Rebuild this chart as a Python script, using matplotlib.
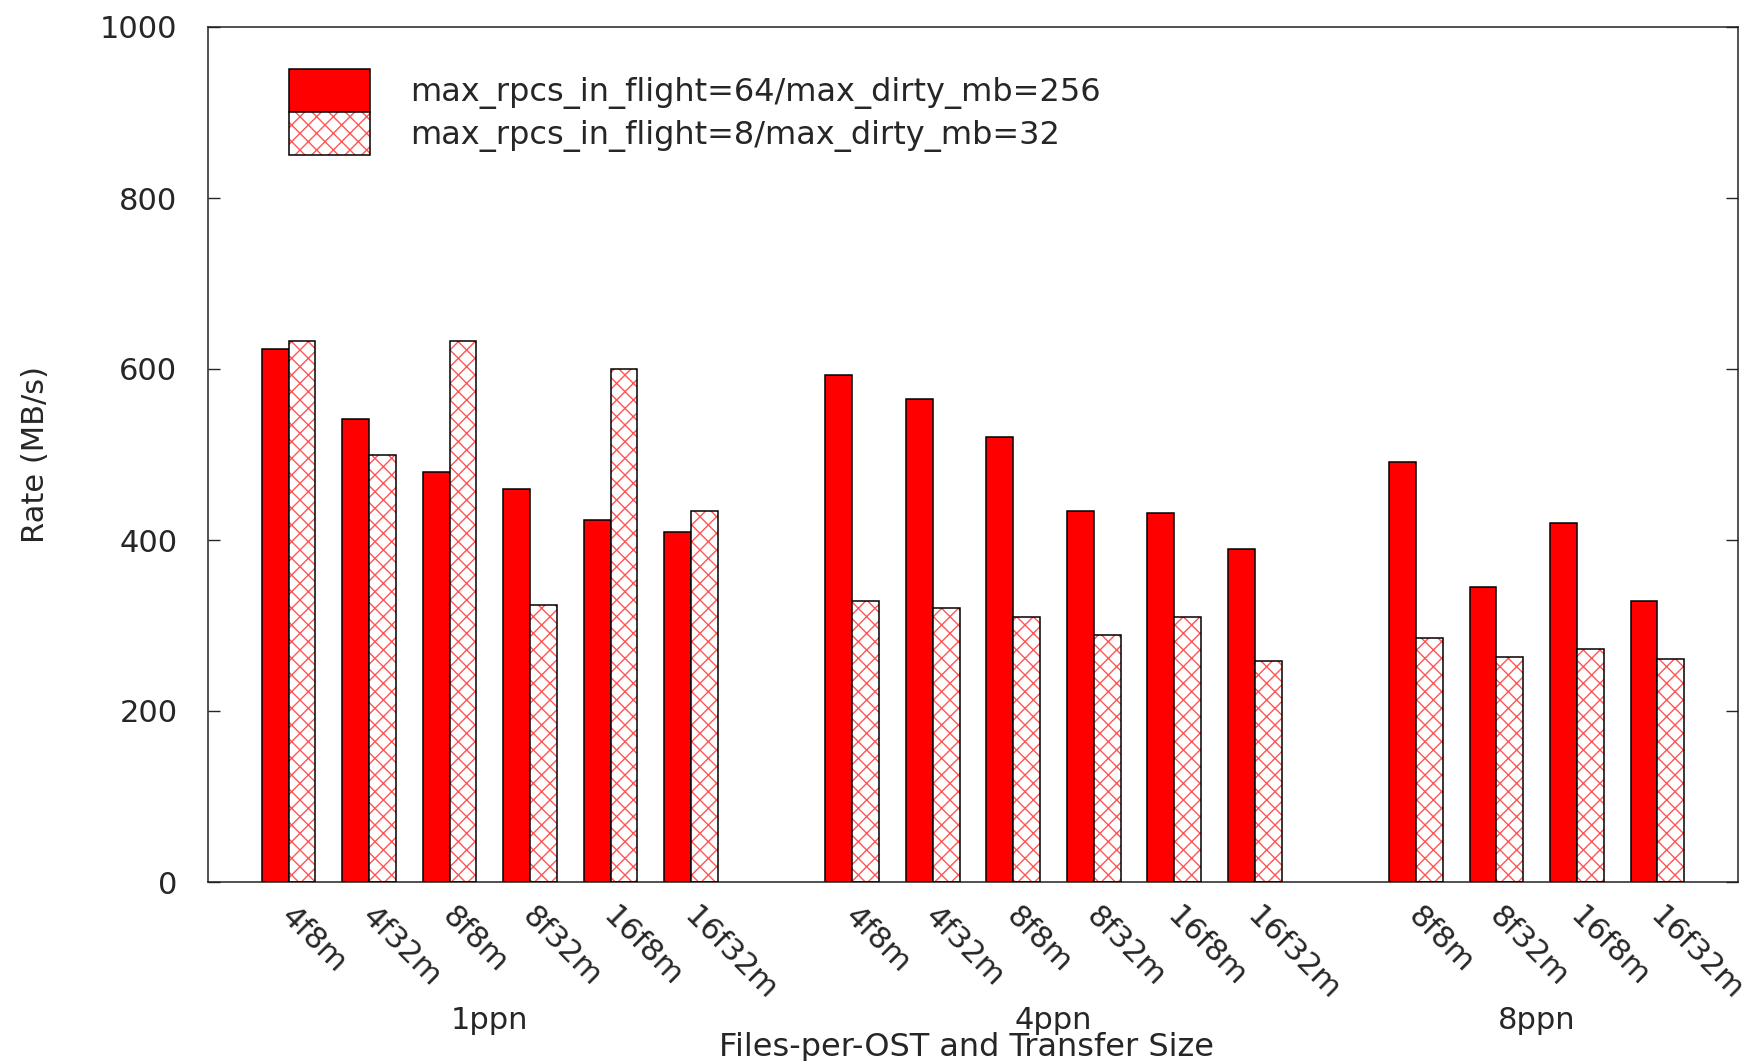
import matplotlib
matplotlib.use('Agg')
import matplotlib.pyplot as plt
from matplotlib.patches import Patch
import matplotlib.transforms as mtransforms
import numpy as np

# ─── Data (MB/s) ─────────────────────────────────────────────────────────────
GROUPS = ["1ppn", "4ppn", "8ppn"]
CATS_1PPN = ["4f8m", "4f32m", "8f8m", "8f32m", "16f8m", "16f32m"]
CATS_4PPN = ["4f8m", "4f32m", "8f8m", "8f32m", "16f8m", "16f32m"]
CATS_8PPN = ["8f8m", "8f32m", "16f8m", "16f32m"]

# max_rpcs_in_flight=64 / max_dirty_mb=256
RATE_64_1PPN = [623, 542, 479, 460, 423, 409]
RATE_64_4PPN = [593, 565, 521, 434, 432, 390]
RATE_64_8PPN = [491, 345, 420, 329]

# max_rpcs_in_flight=8 / max_dirty_mb=32
RATE_8_1PPN = [633, 500, 633, 324, 600, 434]
RATE_8_4PPN = [329, 320, 310, 289, 310, 259]
RATE_8_8PPN = [285, 263, 273, 261]

LABEL_64 = "max_rpcs_in_flight=64/max_dirty_mb=256"
LABEL_8 = "max_rpcs_in_flight=8/max_dirty_mb=32"

# ─── Style ───────────────────────────────────────────────────────────────────
RED = "#ff0000"
HATCH_RED = "#ff5555"
TEXT = "#262626"
FS = 22        # tick and group labels
FS_BIG = 23    # legend and x-axis title

plt.rcParams['font.family'] = ['DejaVu Sans']
plt.rcParams['hatch.linewidth'] = 1.0

cat_lists = [CATS_1PPN, CATS_4PPN, CATS_8PPN]
vals_64 = [RATE_64_1PPN, RATE_64_4PPN, RATE_64_8PPN]
vals_8 = [RATE_8_1PPN, RATE_8_4PPN, RATE_8_8PPN]

# lay groups out gnuplot-histogram style: one empty slot between groups
positions, labels, r64, r8, centers = [], [], [], [], []
offset = 0
for cats, a, b in zip(cat_lists, vals_64, vals_8):
    pos = offset + np.arange(len(cats))
    positions.extend(pos)
    labels.extend(cats)
    r64.extend(a)
    r8.extend(b)
    centers.append(pos.mean())
    offset += len(cats) + 1
positions = np.array(positions, dtype=float)

W = 1 / 3

fig = plt.figure(figsize=(17.48, 10.61), dpi=100)
ax = fig.add_axes([208 / 1748, 1 - 882 / 1061, 1530 / 1748, 855 / 1061])

ax.bar(positions - W / 2, r64, width=W, color=RED, edgecolor='black', linewidth=1.1, zorder=2)
# hatched series: red cross-hatch on white, outline drawn on top in black
ax.bar(positions + W / 2, r8, width=W, facecolor='white', edgecolor=HATCH_RED,
       hatch='xx', linewidth=0, zorder=2)
ax.bar(positions + W / 2, r8, width=W, fill=False, edgecolor='black', linewidth=1.1, zorder=3)

ax.set_xlim(-1, 18)
ax.set_ylim(0, 1000)
ax.set_yticks(np.arange(0, 1001, 200))

ax.set_xticks(positions, labels, rotation=-45, ha='left', va='top')
ax.tick_params(axis='x', length=0, pad=14, labelsize=FS, colors=TEXT)
ax.tick_params(axis='y', direction='in', left=True, right=True, length=8.6, width=1.0,
               pad=22, labelsize=FS, colors=TEXT)
offs = mtransforms.ScaledTranslation(-0.13, 0, fig.dpi_scale_trans)
for lab in ax.get_xticklabels():
    lab.set_transform(lab.get_transform() + offs)

for spine in ax.spines.values():
    spine.set_color('#222222')
    spine.set_linewidth(1.1)

# group names under the tick labels
grp_trans = mtransforms.blended_transform_factory(ax.transData, ax.transAxes)
for name, cx in zip(GROUPS, centers):
    ax.text(cx, -0.162, name, transform=grp_trans, ha='center', va='center',
            fontsize=FS, color=TEXT)

ax.set_xlabel("Files-per-OST and Transfer Size", fontsize=FS_BIG, color=TEXT)
ax.xaxis.set_label_coords(0.496, -0.176)
ax.set_ylabel("Rate (MB/s)", fontsize=FS, color=TEXT)
ax.yaxis.set_label_coords(-0.1035, 0.5)

h64 = Patch(facecolor=RED, edgecolor='black', linewidth=1.1)
h8 = (Patch(facecolor='white', edgecolor=HATCH_RED, hatch='xx', linewidth=0),
      Patch(fill=False, edgecolor='black', linewidth=1.1))
ax.legend([h64, h8], [LABEL_64, LABEL_8], loc='upper left',
          bbox_to_anchor=(289 / 1748, 1 - 69 / 1061), bbox_transform=fig.transFigure,
          frameon=False, fontsize=FS_BIG, labelcolor=TEXT, borderpad=0, borderaxespad=0,
          handlelength=81 / 32, handleheight=1.70, handletextpad=1.25,
          labelspacing=0)

fig.savefig('out.png', dpi=100, facecolor='white')
